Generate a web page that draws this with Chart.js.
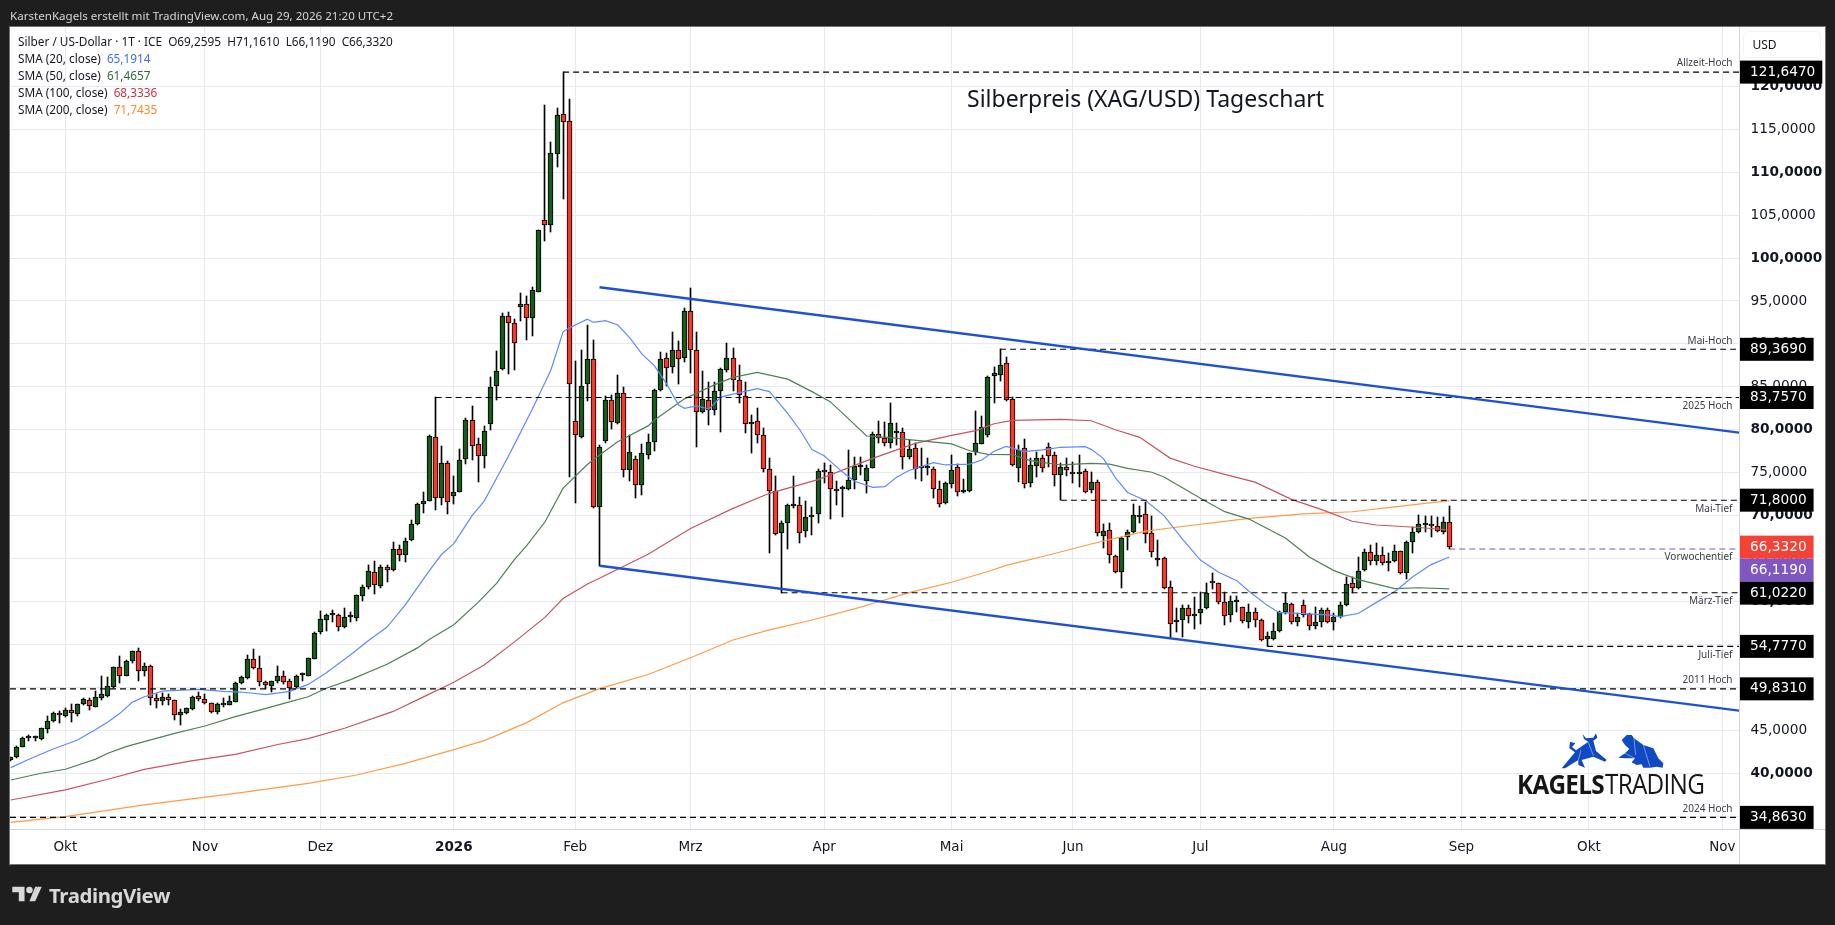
<!DOCTYPE html>
<html>
<head>
<meta charset="utf-8">
<title>Silberpreis (XAG/USD) Tageschart</title>
<script src="https://cdn.jsdelivr.net/npm/chart.js@4/dist/chart.umd.min.js"></script>
<style>
  html, body { margin: 0; padding: 0; background: #1e1e1e; overflow: hidden; }
  #wrap { position: relative; width: 1835px; height: 925px; font-family: "Noto Sans", sans-serif; }
  #wrap div { position: absolute; white-space: pre; }
  canvas { position: absolute; left: 0; top: 0; }
  #header { left: 10px; top: 7px; font-size: 11.6px; line-height: 17px; color: #d6d6d6; }
  .leg { left: 18px; font-size: 11.8px; line-height: 17px; color: #131722; }
  #title { left: 967px; top: 82px; font-size: 23px; line-height: 32px; color: #131722; }
  #footer { left: 49px; top: 880px; font-size: 20.4px; line-height: 30px; font-weight: 700; color: #d8d8d8; letter-spacing: -0.4px; }
  #unit { left: 1742.5px; top: 30.5px; width: 76px; height: 25px; border: 1px solid #f0f3fa; border-radius: 5px; font-size: 12px; line-height: 26px; color: #131722; text-indent: 9px; }
  #kagels { left: 1516.5px; top: 765px; font-size: 27px; line-height: 38px; color: #161616; font-family: "Open Sans", sans-serif; letter-spacing: -0.8px; transform: scaleX(0.9); transform-origin: left center; word-spacing: -5px; }
  #kagels b { font-weight: 700; }
</style>
</head>
<body>
<div id="wrap">
  <canvas id="myChart" width="1835" height="925"></canvas>
  <div id="header">KarstenKagels erstellt mit TradingView.com, Aug 29, 2026 21:20 UTC+2</div>
  <div class="leg" style="top:32.5px">Silber / US-Dollar · 1T · ICE  O69,2595  H71,1610  L66,1190  C66,3320</div>
  <div class="leg" style="top:49.5px">SMA (20, close)  <span style="color:#3d6ff5">65,1914</span></div>
  <div class="leg" style="top:66.5px">SMA (50, close)  <span style="color:#2f6b3a">61,4657</span></div>
  <div class="leg" style="top:83.5px">SMA (100, close)  <span style="color:#cc3344">68,3336</span></div>
  <div class="leg" style="top:100.5px">SMA (200, close)  <span style="color:#ff8a2a">71,7435</span></div>
  <div id="title">Silberpreis (XAG/USD) Tageschart</div>
  <div id="unit">USD</div>
  <svg style="position:absolute;left:12px;top:885px" width="30" height="18" viewBox="0 0 36 22">
    <path fill="#d8d8d8" d="M0 2h15v18H8V9H0zM23 20l8-18h5l-8 18z"/><circle fill="#d8d8d8" cx="21" cy="6" r="4"/>
    <path fill="#d8d8d8" d="M21 20l7-18h3l-7 18z"/>
  </svg>
  <div id="footer">TradingView</div>
  <svg style="position:absolute;left:1510px;top:725px" width="210" height="80" viewBox="0 0 630 240">
    <polygon fill="#1049c4" points="180,50 178,70 195,82 155,130 165,130 205,105 205,120 225,128 215,105 250,95 285,110 290,105 258,78 250,47 262,38 258,25 250,38 228,40 218,28 222,42 235,50 198,76 186,66 196,55"/>
    <polygon fill="#1049c4" points="335,45 350,30 365,30 372,40 400,60 430,70 445,100 460,115 458,128 440,125 420,128 400,128 395,118 380,120 365,112 375,100 345,100 325,98 345,85 358,72 345,60"/>
    <path fill="none" stroke="#dfe7fb" stroke-width="1.5" d="M235 52l15 40M205 105l8-30M372 40l5 50M400 60l20 65M345 85l30 15"/>
  </svg>
  <div id="kagels"><b>KAGELS</b> TRADING</div>
</div>

<script>
// daily candles, oldest first
const opens = [41.55,41.86,43.1,44.05,44.08,43.95,45.12,46.05,46.98,46.63,47.33,46.9,48.02,48.49,47.75,48.8,48.99,50.08,52.33,51.36,53.02,54.19,51.86,52.44,48.72,48.45,48.84,48.49,46.82,47.05,
  47.52,48.95,48.6,48.14,47.17,47.98,47.98,48.33,50.47,51.12,53.26,52.29,50.58,50.19,50.7,51.28,50.7,50.04,51.48,51.36,
  53.34,56.45,57.88,58.44,58.43,57.07,58.17,58.08,60.64,61.65,63.48,61.8,64.06,63.67,66.15,65.46,67.17,68.99,71.4,71.75,
  79.2,72.1,76.17,72.33,72.8,76.64,81.18,78.39,76.95,80.72,85.1,87.04,93.25,92.4,94.34,94.61,93.06,96.08,104.42,103.88,
  112.15,116.74,115.92,80.99,79.12,85.3,88.21,70.98,78.65,83.43,80.75,84.24,75.27,76.55,73.53,77.1,78.53,84.59,88.32,87.27,
  89.25,88.32,93.79,89.25,82.03,83.43,82.26,84.47,86.92,88.32,85.76,83.89,80.68,80.98,79.35,75.39,72.83,67.94,69.1,71.13,
  71.28,68.25,69.8,70.15,75.27,75.04,73.06,73.07,73.06,74.11,75.62,73.99,75.51,79.47,79,78.42,79.6,79.7,76.79,77.84,
  75.55,75.55,75.47,73.06,71.43,73.64,75.62,72.8,72.83,77.41,78.34,79.39,86.26,86.34,87.74,83.55,75.51,77.84,73.76,75.74,
  76.67,77.96,77.02,74.69,75.63,75.04,74.81,75.16,72.95,73.88,67.59,68.29,65.26,63.4,67.47,68.06,69.89,70.15,67.94,64.88,
  65.03,61.65,57.62,57.81,59.2,58.27,58.62,59.2,62.35,62.12,59.9,58.39,59.95,59.32,57.58,58.74,57.81,55.6,55.6,56.53,
  58.74,59.67,57.58,59.55,58.5,57.11,57.58,58.97,57.58,58.16,59.55,62.12,61.53,63.63,65.73,64.68,65.38,64.45,64.68,65.84,
  63.28,66.89,68.06,68.96,68.99,68.75,68.06,69.2595];
const highs = [41.9,43.2,44.26,44.5,44.3,45.25,46.67,47.17,47.25,47.64,48.06,48.1,48.8,48.72,49.53,51.3,51.16,52.4,53.64,53.2,54.2,54.57,52.8,52.6,49.2,49.3,49.2,48.5,47.44,47.6,
  48.95,49.46,49.2,48.2,48.2,48.8,48.95,50.6,51.3,53.72,54.42,53.64,50.7,50.8,52.48,51.9,50.93,51.4,51.7,53.4,
  56.4,58.85,58.6,58.97,58.6,59.3,58.8,60.8,61.9,64.3,64.68,64.2,64.2,66.9,66.6,67.44,69.46,71.5,72.7,79.4,
  83.757,78.08,76.4,74.58,77.8,81.42,82.74,79.01,80.49,86.2,89.15,93.56,93.72,92.87,95.89,95.58,96.59,103.3,117.82,113.5,
  117.47,121.647,118.49,88.05,89.29,92.2,90.46,78.2,83.97,84.05,86.38,84.94,79.39,76.9,78.3,79.5,84.75,89.05,88.98,91.38,
  90.34,94.14,96.51,91.38,86.84,85.56,85.56,87.15,90.06,89.48,87.54,85.56,81.68,82.49,80.16,76.67,74.61,69.4,71.3,74.61,
  72.2,71.74,70.96,75.39,76.09,75.9,74.03,73.45,77.64,76.79,76.79,75.86,79.74,81.02,80.9,83.08,80.75,80.16,78.8,78.42,
  77.84,76.67,75.7,74.07,73.95,77.06,75.97,74.23,77.3,82.18,81.6,86.26,87.35,89.369,88.44,83.86,78.19,78.89,76.67,77.45,
  77.06,78.42,77.45,76.09,76.67,76.29,77.06,75.39,75.04,74.15,69.03,69.1,65.4,67.55,68.33,71.32,71.12,71.55,69.96,67.16,
  65.2,62.4,59.2,59.59,59.59,60.56,61.07,62.12,63.28,62.2,61.07,60.68,60.68,59.4,59.67,59.2,57.93,56.49,57.46,58.85,
  60.95,59.8,58.62,60.18,58.62,59.32,59.2,59.2,58.62,59.98,62.82,62.9,65.14,66.08,66.58,66.78,66.31,65.69,66.58,65.92,
  67,68.71,70.07,69.96,69.96,69.88,69.8,71.161];
const lows = [41.4,41.8,43.05,43.8,43.8,43.9,44.73,46,45.9,46.6,46,46.7,47.9,47.36,47.7,48.5,48.9,49.9,50.54,51.3,52.8,50.78,51.3,47.95,47.64,47.95,47.95,46.2,45.62,46.9,
  47.4,48.45,48.1,46.98,46.9,47.67,47.9,48.3,50.4,51,52.13,50.16,49.77,49.5,50.5,50.39,48.64,49.9,50.8,51.3,
  53.3,56.25,56.6,57.6,56.56,56.9,57.6,57.7,60.1,61.5,60.83,61.57,62.27,63.6,64.72,64.56,67.1,68.9,70.3,71.7,
  70.6,71.24,70.15,71.32,72.7,75.98,76.45,73.92,75.55,79.98,83.44,87,86.5,86.97,92.71,90.46,90.92,96,101.98,103.03,
  110.6,106.9,74.54,71.51,79,83.39,70.9,64.18,78.5,80.09,80.7,74.54,74.07,72.09,72.4,76.63,77.56,84.5,85.1,86.65,
  85.33,87.93,86.65,78.03,81.9,80.59,81.72,79.78,86.7,84.55,83.08,79.58,77.25,78.42,75.12,65.61,67.74,61.022,66.15,70.9,
  66.85,67.55,67.74,69.18,73.84,69.64,71.24,69.88,73,73.06,74.73,72.67,75.5,78.42,78.15,77.91,78.19,75.47,76.63,74.23,
  74.07,74.73,72.01,70.96,71.3,73.18,72.28,72.6,72.8,77.1,78.3,79.2,83.16,85.72,83.3,75.8,73.96,73.18,73.38,74.54,
  75.12,75.63,73.49,71.8,74.62,73.84,73.38,72.68,72.6,67.67,66.27,64.52,63.3,61.61,65.96,68,69.18,66.85,65.22,64.14,
  61.5,55.71,56.49,55.83,57.46,56.76,57.34,59.1,61.5,59.7,57.3,57.65,58.74,57.46,56.95,56.99,55.4,54.777,55.5,56.45,
  58.6,57.4,57.15,58.2,56.68,56.8,56.99,57.46,56.68,58.1,59.5,61.03,61.5,63.5,64.25,64.25,64.29,63.59,64.6,63.2,
  62.66,65.69,68,68.06,67.55,68.1,67.86,66.119];
const closes = [41.86,43.1,44.1,44.12,44.12,45.23,46.05,46.98,46.74,47.33,46.98,48.02,48.6,47.87,48.84,49.19,50.12,52.33,51.36,53.02,54.19,51.86,52.44,48.72,48.45,48.88,48.57,46.82,47.1,47.56,
  48.92,48.68,48.14,47.17,48.02,48.04,48.37,50.47,51.16,53.26,52.29,50.58,50.23,50.7,51.28,50.66,49.92,51.36,51.54,53.37,
  56.37,58,58.47,58.5,57.07,58.23,58.23,60.72,61.73,63.59,61.96,64.06,63.71,66.15,65.46,67.09,69.07,71.4,71.75,79.32,
  72.1,76.17,71.63,72.8,76.52,81.18,78.15,76.95,79.9,85.03,86.9,93.25,92.4,90.07,94.61,93.06,96.24,103.23,103.88,112.2,
  116.62,115.8,85.3,79.36,85.1,88.21,71,77.96,83.43,80.86,84.24,75.27,77.37,73.53,77.25,78.53,84.59,88.2,87.15,89.25,
  88.2,93.79,89.25,82.03,83.54,82.26,84.47,87.04,88.32,85.76,84.01,80.63,80.74,79.35,75.39,72.83,67.86,69.1,71.28,71.19,
  68.01,69.8,70.03,75.16,75.04,73.06,72.83,73.13,74.11,75.74,75.86,75.51,79.47,79,78.42,80.75,79.7,76.79,77.72,75.39,
  75.61,75.61,73.06,71.31,73.76,75.27,72.71,72.86,77.25,78.5,80.28,86.1,86.57,87.5,83.43,75.86,77.6,73.65,75.86,76.67,
  75.51,76.91,74.69,75.63,75.28,74.81,75.04,72.71,73.88,67.94,68.17,65.38,63.4,67.36,68.06,70.04,69.95,67.82,65.73,64.94,
  61.53,57.34,57.85,59.2,58.27,58.5,59.09,60.95,62.12,59.9,58.27,60.02,60.01,57.69,58.74,57.81,55.48,55.98,56.53,58.74,
  59.79,57.58,58.16,58.39,57.11,57.58,58.97,57.58,58.16,59.55,62,61.53,63.51,65.73,64.68,65.38,64.45,64.68,65.84,63.28,
  66.89,68.06,68.99,69.02,68.75,68.17,69.22,66.332];

// moving averages, read at the bars listed next to them
const sma20Bars = [0,3,7,11,14,16,18,20,22,25,31,35,38,42,46,49,52,56,59,62,65,69,71,73,76,78,81,83,86,89,91,92,95,96,98,100,102,104,106,108,110,111,113,115,117,119,123,125,128,130,132,134,137,139,142,144,146,148,152,154,158,160,162,164,167,170,173,177,178,180,182,184,187,190,193,196,199,202,204,207,209,212,217,219,222,225,228,231,234,237];
const sma20Values = [40.66,41.63,42.83,43.88,45.1,45.97,46.98,48.26,48.91,49.57,49.77,49.53,49.46,49.15,49.53,50.35,51.7,53.8,55.5,57.03,59.6,63.63,65.5,66.74,70,71.7,75.6,78.3,82.5,86.96,91.4,91.85,92.87,92.5,92.7,92.2,90.7,88.8,87.5,85.4,82.9,82.5,82.77,82.4,83.8,84.15,84.78,84.44,81.91,80,77.7,76.98,75.1,74,73.29,73.37,74.5,75.25,76.17,75.9,76,76.48,77.5,78.07,77.45,77.65,77.96,78.03,77.72,76.67,74.4,72.7,71.74,70,67.3,64.83,63.4,62.43,61.2,59.55,58.7,58.62,58.45,58.24,58.6,59.9,61.15,62.89,64.3,65.19];
const sma50Bars = [0,5,9,14,16,19,22,27,32,37,41,45,49,52,56,62,67,69,73,77,80,83,85,88,91,95,97,100,105,106,111,116,119,123,128,132,135,138,141,145,148,155,158,161,165,168,173,178,181,184,188,190,196,200,204,210,214,218,222,228,232,237];
const sma50Values = [39.22,40,40.47,41.65,42.33,43.1,43.68,44.65,45.5,46.59,47.36,48.14,48.91,49.9,50.9,52.7,54.6,55.6,57.3,59.9,62.08,64.9,66.5,69.26,73.2,75.95,77.06,78.61,80.45,81.1,83.6,85.25,86.1,86.69,85.9,84.44,83.27,81.3,79.27,79.08,78.85,78.35,77.56,77.14,77.1,76.4,75.9,76.09,76,75.5,75.05,74.5,72.02,70.46,69.6,67.4,65.15,63.6,62.55,61.5,61.6,61.47];
const sma100Bars = [0,9,16,22,30,37,44,49,55,63,68,73,78,83,88,91,95,97,105,112,119,125,133,142,149,155,159,162,165,173,178,182,186,191,195,200,205,211,216,221,225,232,237];
const sma100Values = [36.89,38.06,39.3,40.45,41.47,42.2,43.35,44.04,45.24,47.2,48.9,50.6,52.6,55.3,58.15,60.35,62.04,62.7,65.5,68.5,70.85,72.6,74.2,76.67,78.42,79.35,79.9,80.7,81.1,81.22,81.05,80,79.12,76.7,75.75,74.8,73.9,71.9,70.7,69.35,68.91,68.62,68.33];
const sma200Bars = [0,9,22,37,49,57,65,73,78,85,91,97,105,112,119,125,132,139,143,148,155,161,164,171,178,187,192,200,204,213,221,228,237];
const sma200Values = [34.29,34.95,36.33,37.65,38.83,39.8,41.16,42.75,43.8,45.9,48.2,49.85,51.5,53.45,55.52,56.7,57.85,59.15,59.97,61.03,62.24,63.5,64.2,65.42,66.7,68.2,68.65,69.33,69.69,70.2,70.45,71.03,71.74];

// channel lines
const trendBars = [97, 285];
const upperTrend = [96.59, 79.64];
const lowerTrend = [64.16, 47.27];

// marked price levels and the bar each one starts from
const levelValues = [121.647, 89.369, 83.757, 71.8, 66.119, 61.022, 54.777, 49.831, 34.863];
const levelBars = [91, 163, 70, 173, 237, 127, 207, -1, -1];
const levelNames = ['Allzeit-Hoch', 'Mai-Hoch', '2025 Hoch', 'Mai-Tief', 'Vorwochentief', 'März-Tief', 'Juli-Tief', '2011 Hoch', '2024 Hoch'];
const levelColors = ['#000000', '#000000', '#000000', '#000000', '#7e57c2', '#000000', '#000000', '#000000', '#000000'];
const lastClose = 66.332;

// axes
const priceTicks = [120,115,110,105,100,95,90,85,80,75,70,65,60,55,50,45,40,35];
const boldPriceTicks = [120,110,100,80,70,60,40];
const monthBars = [9, 32, 51, 73, 93, 112, 134, 155, 175, 196, 218, 239, 260, 282];
const monthLabels = ['Okt', 'Nov', 'Dez', '2026', 'Feb', 'Mrz', 'Apr', 'Mai', 'Jun', 'Jul', 'Aug', 'Sep', 'Okt', 'Nov'];

const xMin = -0.12, xMax = 284.73, yMin = 33.51, yMax = 126.9;
const grid = '#e9eaef';
const axisFont = '"DejaVu Sans", sans-serif';
const upColor = '#1a5a1e', downColor = '#f4392d';
const labelsAbove = ['Allzeit-Hoch', 'Mai-Hoch', '2011 Hoch', '2024 Hoch'];

function points(bars, values) {
  return bars.map(function (b, i) { return { x: b, y: values[i] }; });
}
function price(v) {
  return v.toFixed(4).replace('.', ',');
}
function smaLine(label, bars, values, color, order) {
  return { type: 'line', label: label, data: points(bars, values), borderColor: color, borderWidth: 1.2, pointRadius: 0, tension: 0, order: order };
}

// candles look crisp only on whole pixels
const drawBar = Chart.BarElement.prototype.draw;
Chart.BarElement.prototype.draw = function (c) {
  const x = this.x, y = this.y, base = this.base;
  this.x = Math.floor(x) + 0.5;
  this.y = Math.round(y);
  this.base = Math.round(base);
  drawBar.call(this, c);
  this.x = x; this.y = y; this.base = base;
};

const bars = opens.map(function (o, i) { return i; });
const datasets = [
  smaLine('SMA 20', sma20Bars, sma20Values, '#5b8cff', 3),
  smaLine('SMA 50', sma50Bars, sma50Values, '#4f7f58', 4),
  smaLine('SMA 100', sma100Bars, sma100Values, '#c65461', 5),
  smaLine('SMA 200', sma200Bars, sma200Values, '#ff9c45', 6),
  { type: 'line', label: 'Kanal oben', data: points(trendBars, upperTrend), borderColor: '#1e50d6', borderWidth: 2.4, pointRadius: 0, order: 1 },
  { type: 'line', label: 'Kanal unten', data: points(trendBars, lowerTrend), borderColor: '#1e50d6', borderWidth: 2.4, pointRadius: 0, order: 1 },
  { type: 'bar', label: 'Kerzen', data: bars.map(function (i) { return { x: i, y: [opens[i], closes[i]] }; }),
    backgroundColor: bars.map(function (i) { return closes[i] >= opens[i] ? upColor : downColor; }),
    borderColor: '#000000', borderWidth: 1, borderSkipped: false, barThickness: 5, minBarLength: 2, grouped: false, order: 8 },
  { type: 'bar', label: 'Dochte', data: bars.map(function (i) { return { x: i, y: [lows[i], highs[i]] }; }),
    backgroundColor: '#000000', borderWidth: 0, barThickness: 1, grouped: false, order: 9 }
];
levelValues.forEach(function (v, i) {
  const start = levelBars[i] < 0 ? xMin : levelBars[i];
  datasets.push({ type: 'line', label: levelNames[i], data: [{ x: start, y: v }, { x: xMax, y: v }],
    borderColor: levelColors[i], borderWidth: 1.1, borderDash: [6, 4], pointRadius: 0, order: 2 });
});

// white panel behind the chart, separators, level names and price boxes
const tvFrame = {
  id: 'tvFrame',
  beforeDraw: function (chart) {
    const c = chart.ctx;
    c.save();
    c.fillStyle = '#ffffff';
    c.fillRect(10, 27, 1815, 837);
    c.strokeStyle = '#6f7278';
    c.strokeRect(9.5, 26.5, 1816, 838);
    c.restore();
  },
  afterDraw: function (chart) {
    const c = chart.ctx, a = chart.chartArea, y = chart.scales.y;
    c.save();
    c.strokeStyle = '#d1d4dc';
    c.beginPath();
    c.moveTo(a.right + 0.5, 27); c.lineTo(a.right + 0.5, 864);
    c.moveTo(10, a.bottom + 0.5); c.lineTo(1825, a.bottom + 0.5);
    c.stroke();

    c.font = '10px "Noto Sans", sans-serif';
    c.fillStyle = '#3a3d45';
    c.textAlign = 'right';
    c.textBaseline = 'middle';
    levelNames.forEach(function (n, i) {
      const py = y.getPixelForValue(levelValues[i]);
      c.fillText(n, a.right - 6.5, py + (labelsAbove.indexOf(n) >= 0 ? -8.5 : 8.5));
    });

    const boxes = levelValues.map(function (v, i) { return { v: v, color: levelColors[i] }; });
    boxes.push({ v: lastClose, color: '#f44336' });
    boxes.sort(function (p, q) { return q.v - p.v; });
    c.font = '13.7px ' + axisFont;
    c.textAlign = 'left';
    let last = 0;
    boxes.forEach(function (b) {
      const t = price(b.v), w = c.measureText(t).width + 17;
      const top = Math.max(y.getPixelForValue(b.v) - 11.5, last);
      c.fillStyle = b.color;
      c.fillRect(a.right + 1, top, w, 23);
      c.fillStyle = '#ffffff';
      c.fillText(t, a.right + 11, top + 11.5);
      last = top + 23;
    });
    c.restore();
  }
};

const ctx = document.getElementById('myChart').getContext('2d');
const myChart = new Chart(ctx, {
  type: 'bar',
  data: { datasets: datasets },
  plugins: [tvFrame],
  options: {
    responsive: false,
    animation: false,
    devicePixelRatio: 1,
    layout: { padding: { left: 10, top: 27, right: 10, bottom: 61 } },
    plugins: { legend: { display: false }, title: { display: false }, tooltip: { enabled: false } },
    scales: {
      x: {
        type: 'linear', min: xMin, max: xMax, offset: false,
        afterBuildTicks: function (s) { s.ticks = monthBars.map(function (b) { return { value: b }; }); },
        afterFit: function (s) { s.height = 35; },
        grid: { color: grid, drawTicks: false, offset: false },
        border: { display: false },
        ticks: {
          autoSkip: false, maxRotation: 0, padding: 10, color: '#131722',
          font: function (c) {
            const isYear = c.tick && monthLabels[monthBars.indexOf(c.tick.value)] === '2026';
            return { family: axisFont, size: 13.5, weight: isYear ? 'bold' : 'normal' };
          },
          callback: function (v) { return monthLabels[monthBars.indexOf(v)]; }
        }
      },
      y: {
        position: 'right', min: yMin, max: yMax,
        afterBuildTicks: function (s) { s.ticks = priceTicks.map(function (v) { return { value: v }; }); },
        afterFit: function (s) { s.width = 86; },
        grid: { color: grid, drawTicks: false },
        border: { display: false },
        ticks: {
          padding: 11.5, color: '#131722', autoSkip: false,
          font: function (c) {
            const bold = c.tick && boldPriceTicks.indexOf(c.tick.value) >= 0;
            return { family: axisFont, size: 13.7, weight: bold ? 'bold' : 'normal' };
          },
          callback: function (v) { return price(v); }
        }
      }
    }
  }
});
</script>
</body>
</html>
